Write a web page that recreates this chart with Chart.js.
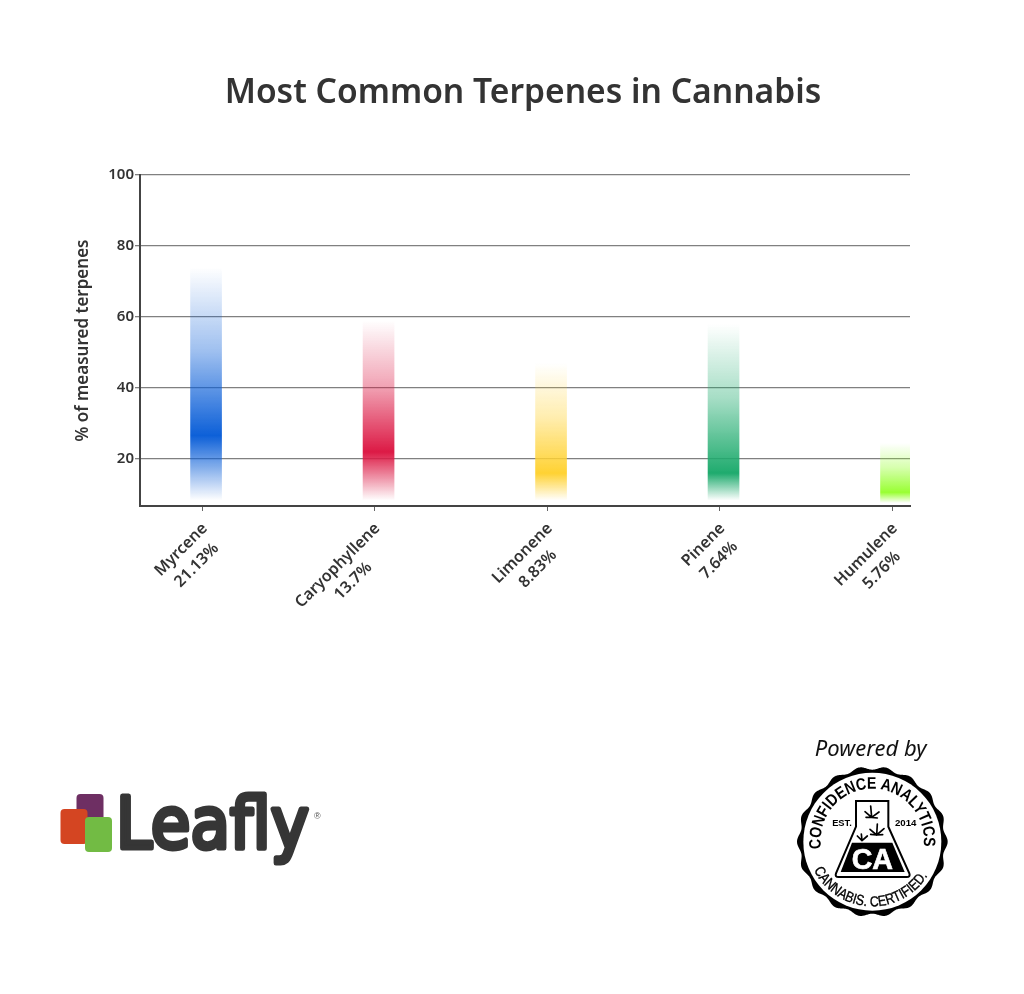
<!DOCTYPE html>
<html>
<head>
<meta charset="utf-8">
<title>Most Common Terpenes in Cannabis</title>
<script src="https://cdn.jsdelivr.net/npm/chart.js@4"></script>
<style>
  html, body { margin: 0; padding: 0; background: #fff; }
  #stage { position: relative; width: 1024px; height: 994px; overflow: hidden; }
  #chart { position: absolute; left: 0; top: 0; }
  #title { position: absolute; left: 0; width: 1046px; top: 67px; text-align: center;
    font: 600 33.6px "Noto Sans", sans-serif; color: #333; white-space: nowrap; }
  svg { position: absolute; }
</style>
</head>
<body>
<div id="stage">
  <canvas id="chart" width="1024" height="994"></canvas>
  <div id="title">Most Common Terpenes in Cannabis</div>

  <!-- Leafly logo -->
  <svg style="left:50px;top:780px" width="280" height="100" viewBox="50 780 280 100">
    <rect x="76.5" y="794" width="27" height="27" rx="4" fill="#6e2f63"/>
    <rect x="60.5" y="809" width="27" height="35" rx="4" fill="#d44522"/>
    <rect x="85" y="817" width="27" height="35" rx="4" fill="#72bb44"/>
    <text x="116" y="848" font-family="DejaVu Sans" font-size="72" fill="#363636" stroke="#363636"
      stroke-width="5" stroke-linejoin="round" textLength="193" lengthAdjust="spacingAndGlyphs">Leafly</text>
    <text x="314" y="819" font-family="Liberation Sans" font-size="9" fill="#555">®</text>
  </svg>

  <!-- Confidence Analytics seal -->
  <svg style="left:780px;top:730px" width="190" height="200" viewBox="0 0 570 600">
    <defs>
      <path id="arcTop" d="M 124 356 A 155 155 0 1 1 430 356"/>
      <path id="arcBot" d="M 102 420 A 195 195 0 0 0 452 420"/>
    </defs>
    <text x="272" y="78" text-anchor="middle" font-family="Noto Sans" font-style="italic" font-size="66" fill="#111">Powered by</text>
    <path id="scallop" fill="#000"/>
    <circle cx="277" cy="335" r="207" fill="#fff"/>
    <text font-family="Liberation Sans" font-weight="700" font-size="50" fill="#000">
      <textPath href="#arcTop" textLength="530" lengthAdjust="spacingAndGlyphs">CONFIDENCE ANALYTICS</textPath>
    </text>
    <text font-family="Liberation Sans" font-size="44" fill="#000" stroke="#000" stroke-width="1">
      <textPath href="#arcBot" textLength="415" lengthAdjust="spacingAndGlyphs">CANNABIS. CERTIFIED.</textPath>
    </text>
    <path d="M228 213 L325 213 L325 290 L388 430 Q392 441 380 441 L176 441 Q164 441 168 430 L228 290 Z" fill="#fff" stroke="#000" stroke-width="6"/>
    <path d="M216 338 L337 338 L374 426 L182 426 Z" fill="#000"/>
    <text x="277" y="418" text-anchor="middle" font-family="Liberation Sans" font-weight="700" font-size="86" fill="#fff" stroke="#fff" stroke-width="2">CA</text>
    <text x="186" y="287" text-anchor="middle" font-family="Liberation Sans" font-weight="700" font-size="28" fill="#000">EST.</text>
    <text x="377" y="287" text-anchor="middle" font-family="Liberation Sans" font-weight="700" font-size="29" fill="#000">2014</text>
    <g stroke="#000" stroke-width="5" stroke-linecap="round" fill="none">
      <path d="M275 262 L272 228 M275 262 L255 245 M275 262 L297 246 M275 262 L258 262 M275 262 L292 264"/>
      <path d="M290 315 L292 282 M290 315 L270 298 M290 315 L312 296 M290 315 L272 313 M290 315 L308 314"/>
      <path d="M246 332 L244 312 M246 332 L232 318 M246 332 L262 318"/>
    </g>
  </svg>
</div>

<script>
const categories = ['Myrcene', 'Caryophyllene', 'Limonene', 'Pinene', 'Humulene'];
const shares = ['21.13%', '13.7%', '8.83%', '7.64%', '5.76%'];
const rangeLow = [8.3, 8.3, 8.3, 8.3, 7.6];
const rangeHigh = [74, 59, 47, 58, 24.5];
const peakValues = [26.6, 22, 16, 16, 10.6];
const barColors = ['13, 96, 216', '220, 26, 69', '255, 210, 51', '31, 171, 110', '153, 255, 51'];
const yTicks = [20, 40, 60, 80, 100];

const textColor = '#333';
const labelFont = '"Noto Sans", sans-serif';
const barShift = 0.021; // bars sit slightly right of their tick

// fade from clear at both ends of the range to solid at the peak
function barGradient(ctx) {
    const chart = ctx.chart;
    const i = ctx.dataIndex;
    if (!chart.chartArea || i === undefined) return 'rgba(0,0,0,0)';
    const y = chart.scales.y;
    const top = y.getPixelForValue(rangeHigh[i]);
    const bottom = y.getPixelForValue(rangeLow[i]);
    const peak = (y.getPixelForValue(peakValues[i]) - top) / (bottom - top);
    const rgb = barColors[i];
    const g = chart.ctx.createLinearGradient(0, top, 0, bottom);
    g.addColorStop(0, `rgba(${rgb}, 0)`);
    g.addColorStop(peak * 0.5, `rgba(${rgb}, 0.4)`);
    g.addColorStop(peak, `rgba(${rgb}, 1)`);
    g.addColorStop(1, `rgba(${rgb}, 0)`);
    return g;
}

// Chart.js right-aligns rotated multi-line ticks, here the two lines are centred on each other
const centredTickLabels = {
    id: 'centredTickLabels',
    afterDraw(chart) {
        const x = chart.scales.x;
        const ctx = chart.ctx;
        ctx.save();
        ctx.font = `600 16px ${labelFont}`;
        ctx.fillStyle = textColor;
        ctx.textAlign = 'center';
        ctx.textBaseline = 'middle';
        categories.forEach((name, i) => {
            const half = ctx.measureText(name).width / 2;
            const cx = x.getPixelForValue(i) + 2.5 - half * Math.SQRT1_2;
            const cy = x.top + 20 + half * Math.SQRT1_2;
            [name, shares[i]].forEach((line, n) => {
                ctx.save();
                ctx.translate(cx + n * 15.5, cy + n * 15.5);
                ctx.rotate(-Math.PI / 4);
                ctx.fillText(line, 0, 0);
                ctx.restore();
            });
        });
        ctx.restore();
    }
};

new Chart(document.getElementById('chart'), {
    type: 'bar',
    data: {
        datasets: [{
            data: categories.map((c, i) => ({ x: i + barShift, y: [rangeLow[i], rangeHigh[i]] })),
            backgroundColor: barGradient,
            borderWidth: 0,
            borderSkipped: false,
            barThickness: 31
        }]
    },
    plugins: [centredTickLabels],
    options: {
        responsive: false,
        animation: false,
        layout: { padding: { top: 175, right: 114, left: 0, bottom: 0 } },
        plugins: { legend: { display: false }, tooltip: { enabled: false } },
        scales: {
            x: {
                type: 'linear',
                offset: false,
                min: -0.362,
                max: 4.102,
                afterFit: (s) => { s.height = 488; },
                afterBuildTicks: (s) => { s.ticks = categories.map((c, i) => ({ value: i })); },
                border: { color: '#444', width: 2 },
                grid: { offset: false, drawOnChartArea: false, tickLength: 5, tickColor: '#666' },
                ticks: { display: false }
            },
            y: {
                min: 6.76,
                max: 100,
                afterFit: (s) => { s.width = 140; },
                afterBuildTicks: (s) => { s.ticks = yTicks.map((v) => ({ value: v })); },
                border: { color: '#444', width: 2 },
                grid: { color: '#808080', lineWidth: 1.3, tickLength: 5, tickColor: '#808080' },
                ticks: {
                    padding: 1,
                    color: textColor,
                    font: { family: labelFont, size: 15, weight: '600' }
                },
                title: {
                    display: true,
                    text: '% of measured terpenes',
                    color: textColor,
                    padding: { top: 73, bottom: 0 },
                    font: { family: labelFont, size: 17, weight: '600' }
                }
            }
        }
    }
});

// scalloped edge of the seal
const scallopPts = [];
for (let a = 0; a < 720; a++) {
    const t = a / 720 * Math.PI * 2;
    const r = 221 + 5 * Math.cos(t * 18);
    scallopPts.push(`${(277 + r * Math.cos(t)).toFixed(1)} ${(335 + r * Math.sin(t)).toFixed(1)}`);
}
document.getElementById('scallop').setAttribute('d', 'M' + scallopPts.join(' L') + ' Z');
</script>
</body>
</html>
